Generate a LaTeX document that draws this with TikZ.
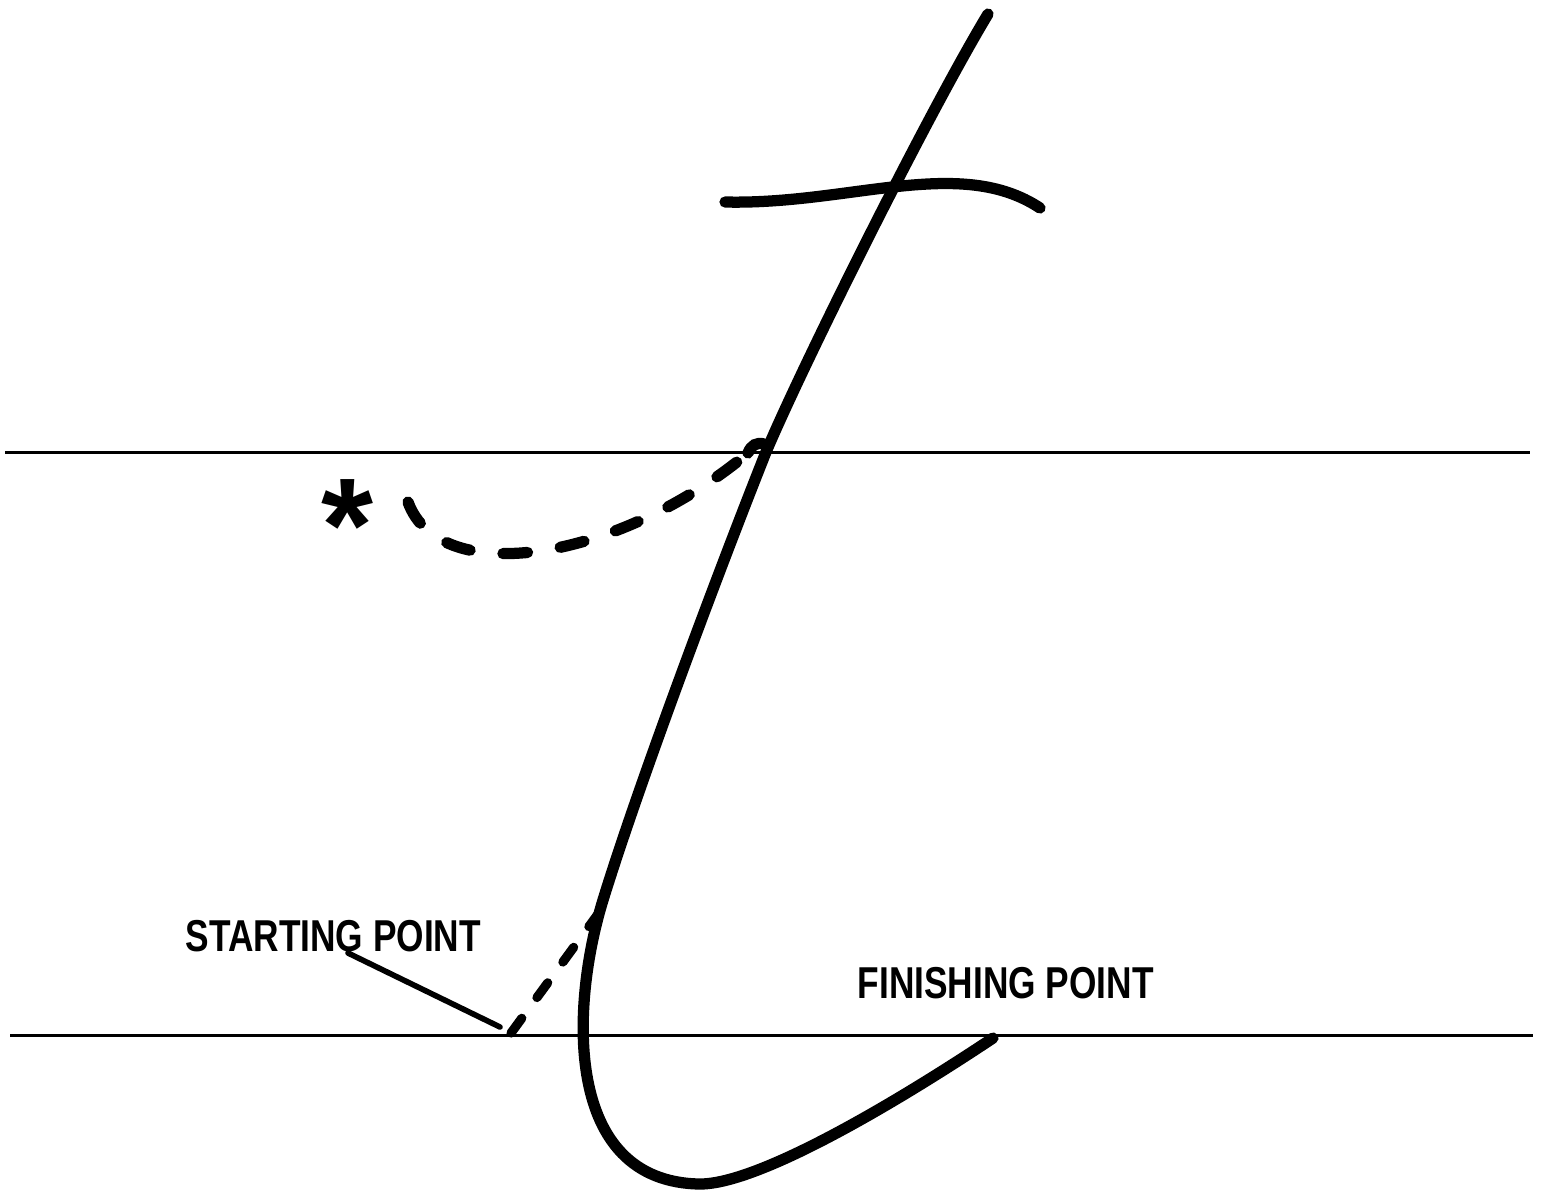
\documentclass[tikz,border=0pt]{standalone}
\usepackage{fontspec}
\newfontfamily\lettering[FakeStretch=0.79]{Liberation Sans}
\newfontfamily\starfont{Liberation Sans}

\begin{document}
\begin{tikzpicture}[x=0.01cm,y=-0.01cm,
  guide/.style={line width=0.85pt},
  pen/.style={line width=3.2pt,line cap=round},
  trail/.style={pen,dash pattern=on 7pt off 9.4pt},
  trace/.style={line width=2.6pt,line cap=round,dash pattern=on 5.2pt off 7.3pt},
  lead/.style={line width=1.6pt,line cap=round},
  note/.style={font=\lettering\bfseries\fontsize{12.7}{13}\selectfont,inner sep=0pt}
]
\useasboundingbox (0,0) rectangle (1546,1190);

% guide lines
\draw[guide] (5,452) -- (1530,452);
\draw[guide] (10,1035) -- (1533,1035);

% the letter
\coordinate (top) at (988,14);
\coordinate (waist) at (766,452);
\coordinate (turn) at (603,900);
\coordinate (low) at (700,1184);
\coordinate (finish) at (993,1038);
\coordinate (start) at (511,1033);
\draw[pen] (top) .. controls (930,110) and (805,360) .. (waist)
  .. controls (723,560) and (640,780) .. (turn)
  .. controls (571,1004) and (562,1182) .. (low)
  .. controls (760,1184) and (900,1100) .. (finish);
\draw[pen] (725,202) .. controls (850,205) and (960,155) .. (1040,208);
\draw[trace] (start) -- (598,914);

% dotted approach stroke
\node[font=\starfont\bfseries\fontsize{38}{38}\selectfont,inner sep=0pt] (star) at (347,526) {*};
\coordinate (hook) at (748,453);
\draw[trail] (408,502) .. controls (440,590) and (620,560) .. (hook);
\draw[pen] (hook) .. controls (751,445) and (757,442) .. (764,444);

% labels
\node[note,anchor=base west] (sp) at (185,951) {STARTING POINT};
\node[note,anchor=base west] (fp) at (857,998) {FINISHING POINT};
\coordinate (spfoot) at (348,953);
\draw[lead] (spfoot) -- (500,1027);
\end{tikzpicture}
\end{document}
